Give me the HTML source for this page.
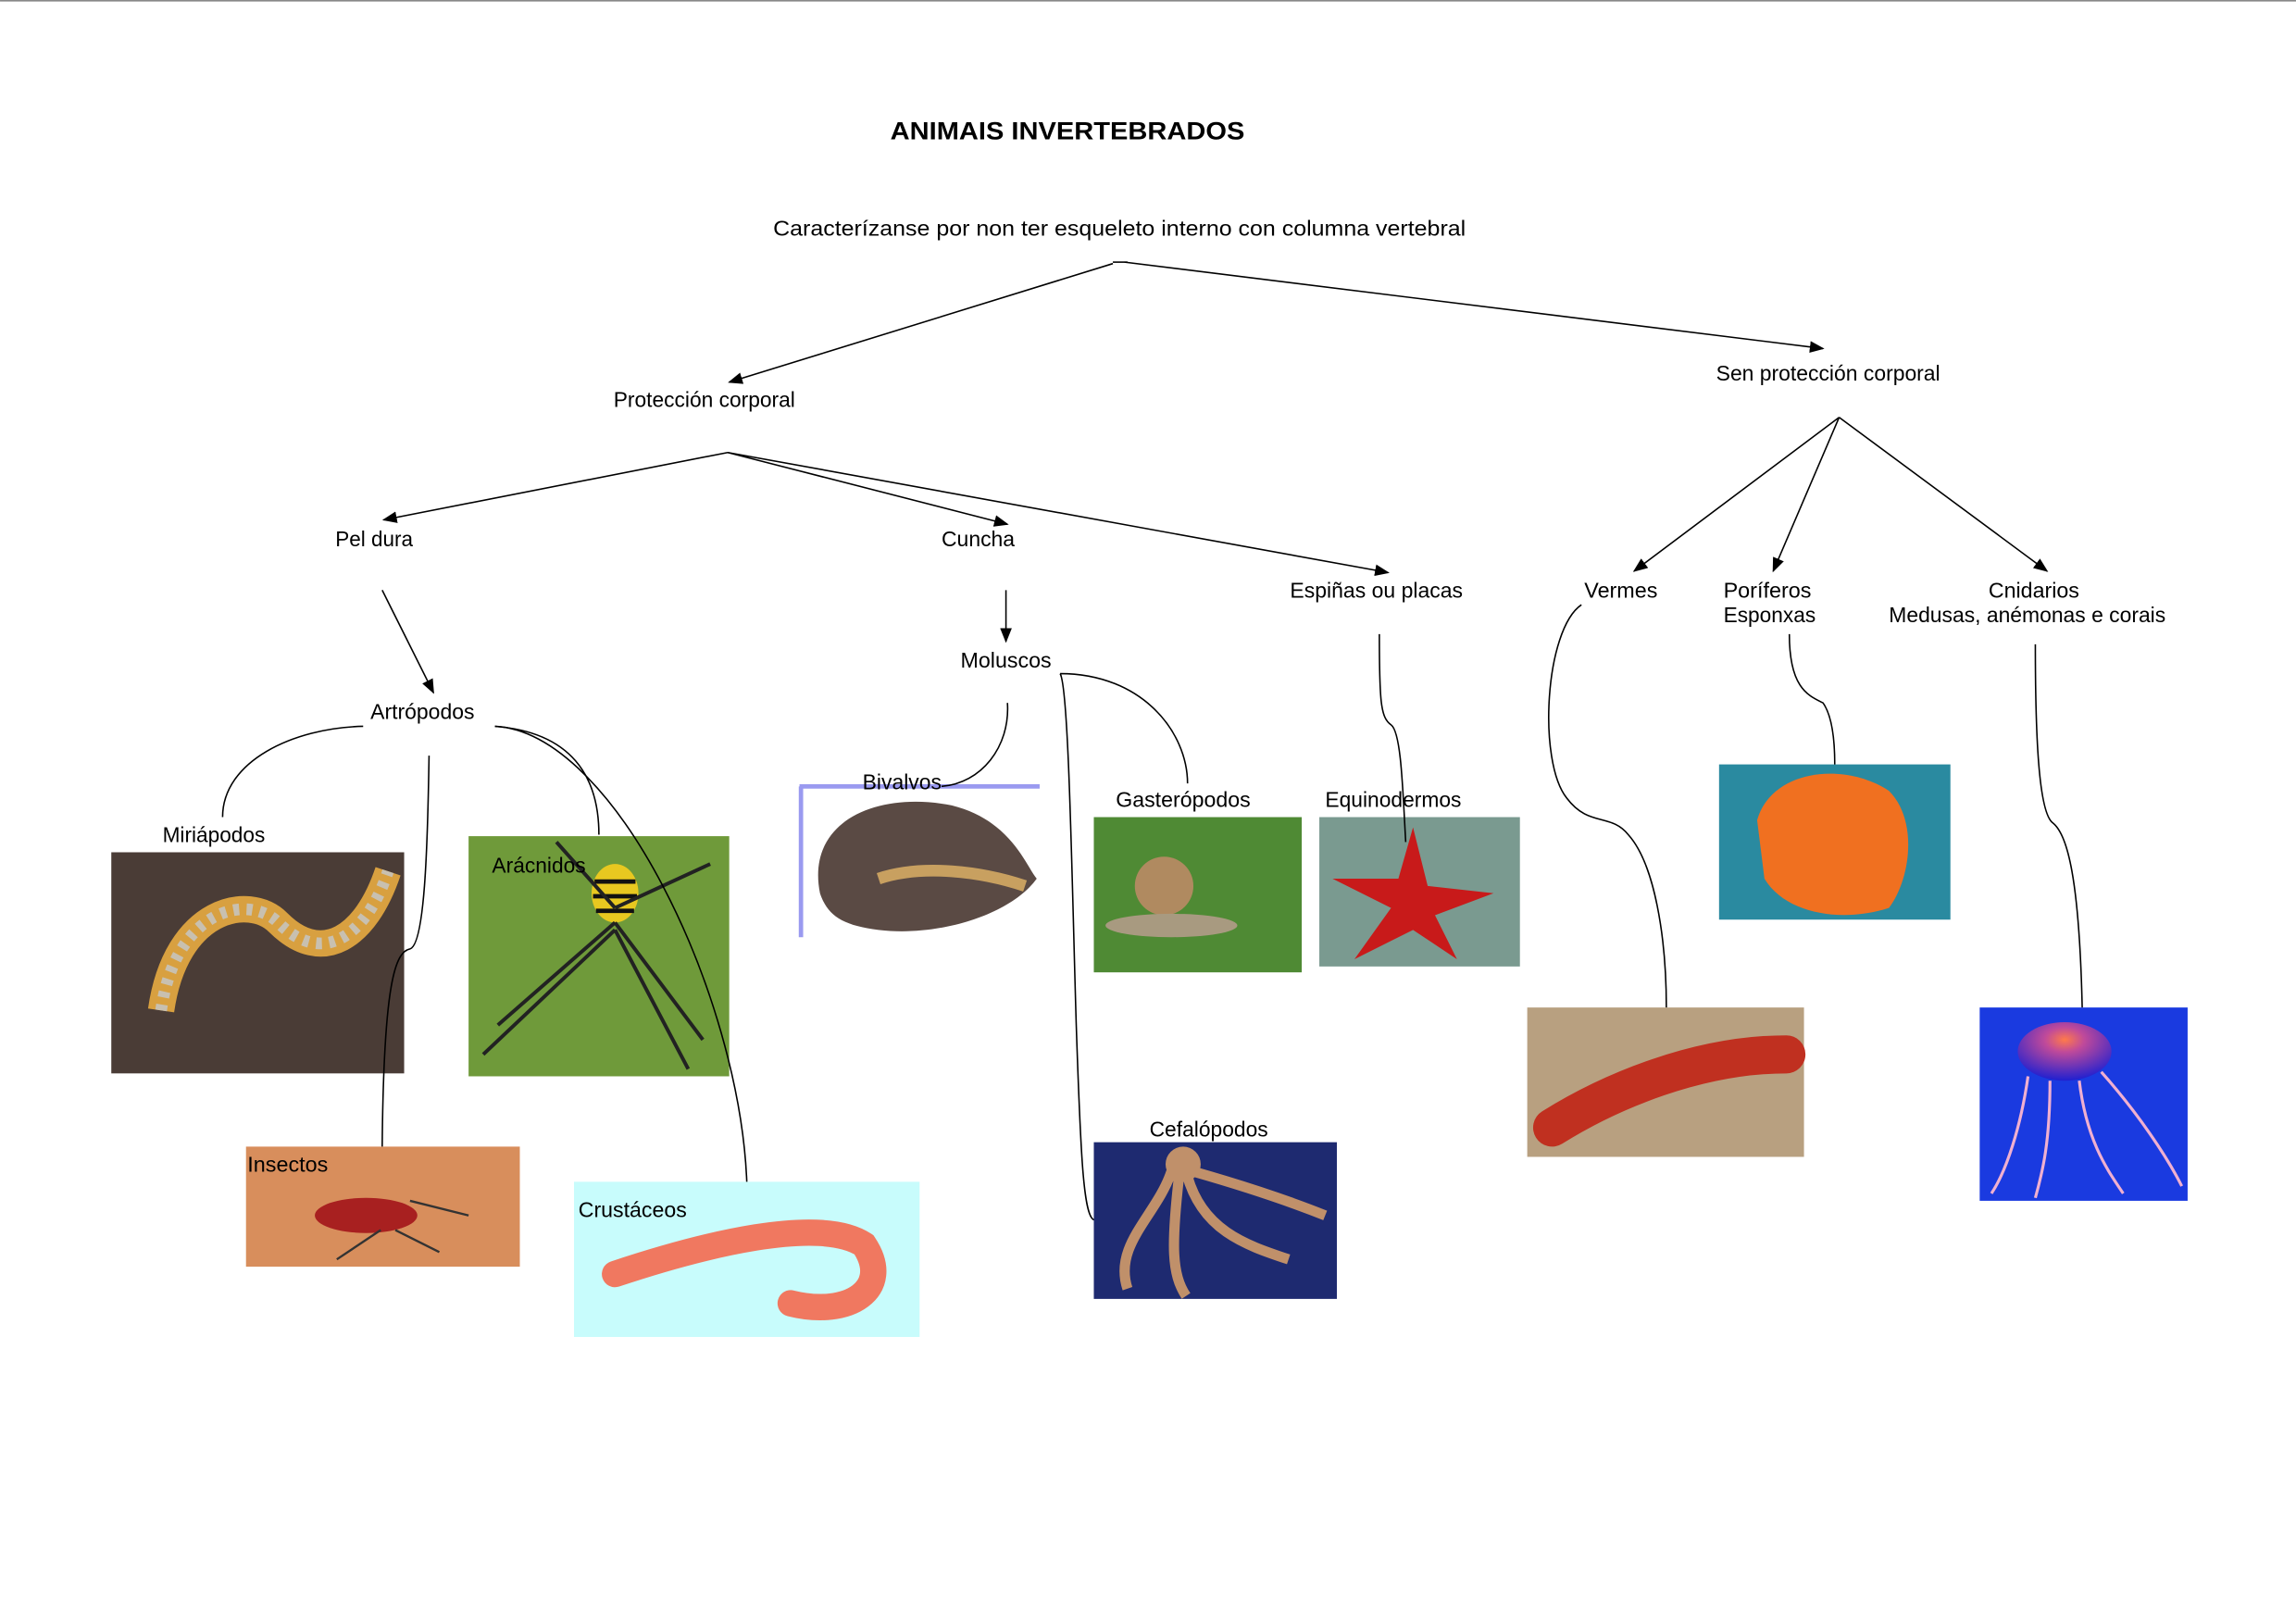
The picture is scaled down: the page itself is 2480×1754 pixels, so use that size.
<!DOCTYPE html>
<html><head><meta charset="utf-8"><style>
html,body{margin:0;padding:0;background:#fff}
svg{display:block}
text{font-family:"Liberation Sans",sans-serif;font-size:14.5px;fill:#000}
</style></head><body>
<svg width="2480" height="1754" viewBox="0 0 1568 1109" xmlns="http://www.w3.org/2000/svg">
<defs>
<marker id="a" markerWidth="10" markerHeight="8" refX="9" refY="4" orient="auto" markerUnits="userSpaceOnUse"><path d="M0,0 L10,4 L0,8 z" fill="#000"/></marker>
<radialGradient id="jel" cx="50%" cy="30%" r="70%"><stop offset="0" stop-color="#ff7a4a"/><stop offset=".3" stop-color="#c04a9a"/><stop offset="1" stop-color="#2020d0"/></radialGradient>
</defs>
<rect width="1568" height="1109" fill="#fff"/>
<line x1="0" y1="0.5" x2="1568" y2="0.5" stroke="#888" stroke-width="1"/>

<!-- photos -->
<rect x="76" y="582" width="200" height="151" fill="#4a3c36"/>
<path d="M110,690 C120,620 170,610 190,630 C220,660 250,640 265,595" stroke="#d8a040" stroke-width="18" fill="none"/>
<path d="M110,690 C120,620 170,610 190,630 C220,660 250,640 265,595" stroke="#c8c0b0" stroke-width="8" fill="none" stroke-dasharray="4 5"/>
<rect x="320" y="571" width="178" height="164" fill="#6f9a3a"/>
<ellipse cx="420" cy="610" rx="16" ry="20" fill="#e8c820"/>
<path d="M406,602h28M405,612h30M407,622h26" stroke="#111" stroke-width="3"/>
<path d="M420,630 L340,700 M420,630 L480,710 M420,620 L380,575 M420,620 L485,590 M420,635 L330,720 M420,635 L470,730" stroke="#222" stroke-width="2.5"/>
<rect x="168" y="783" width="187" height="82" fill="#d88e5c"/>
<ellipse cx="250" cy="830" rx="35" ry="12" fill="#a82020"/>
<path d="M280,820 L320,830 M260,840 L230,860 M270,840 L300,855" stroke="#333" stroke-width="1.5"/>
<rect x="392" y="807" width="236" height="106" fill="#c8fcfc"/>
<path d="M420,870 C480,850 560,830 590,850 C610,880 580,900 540,890" stroke="#f07860" stroke-width="18" fill="none" stroke-linecap="round"/>
<rect x="546" y="536" width="164" height="104" fill="#fff"/>
<path d="M546,537 H710 M547,537 V640" stroke="#9a9af0" stroke-width="3"/>
<path d="M560,610 C550,560 600,540 650,550 C690,560 700,590 708,600 C690,625 640,640 600,635 C575,632 565,625 560,610z" fill="#5a4a44"/>
<path d="M600,600 C630,590 670,595 700,605" stroke="#c8a060" stroke-width="8" fill="none"/>
<rect x="747" y="558" width="142" height="106" fill="#4f8a34"/>
<circle cx="795" cy="605" r="20" fill="#b08a60"/><ellipse cx="800" cy="632" rx="45" ry="8" fill="#a89a80"/>
<rect x="901" y="558" width="137" height="102" fill="#7a9a90"/>
<path d="M965,565 L975,605 L1020,610 L980,625 L995,655 L965,635 L925,655 L950,620 L910,600 L955,600z" fill="#c81a1a"/>
<rect x="747" y="780" width="166" height="107" fill="#1e2a70"/>
<path d="M800,800 C790,830 760,850 770,880 M810,800 C820,840 850,850 880,860 M805,805 C800,850 800,870 810,885 M815,800 C850,810 880,820 905,830" stroke="#c0906a" stroke-width="7" fill="none"/>
<circle cx="808" cy="795" r="12" fill="#c0906a"/>
<rect x="1174" y="522" width="158" height="106" fill="#2a8aa0"/>
<path d="M1200,560 C1210,525 1260,520 1290,540 C1310,560 1305,600 1290,620 C1260,630 1220,625 1205,600z" fill="#f07020"/>
<rect x="1043" y="688" width="189" height="102" fill="#b8a080"/>
<path d="M1060,770 C1100,745 1160,720 1220,720" stroke="#c03020" stroke-width="26" fill="none" stroke-linecap="round"/>
<rect x="1352" y="688" width="142" height="132" fill="#1a3ae0"/>
<ellipse cx="1410" cy="718" rx="32" ry="20" fill="url(#jel)"/>
<path d="M1385,735 C1380,770 1370,800 1360,815 M1400,738 C1400,780 1395,800 1390,818 M1420,738 C1425,780 1440,800 1450,815 M1435,732 C1460,760 1480,790 1490,810" stroke="#f0b0d0" stroke-width="2" fill="none"/>

<!-- text -->
<text x="608" y="95" font-weight="bold" style="font-size:17px" textLength="242" lengthAdjust="spacingAndGlyphs">ANIMAIS INVERTEBRADOS</text>
<text x="528" y="161" textLength="473" lengthAdjust="spacingAndGlyphs">Caracterízanse por non ter esqueleto interno con columna vertebral</text>
<text x="419" y="278" textLength="124" lengthAdjust="spacingAndGlyphs">Protección corporal</text>
<text x="1172" y="260" textLength="153" lengthAdjust="spacingAndGlyphs">Sen protección corporal</text>
<text x="229" y="373" textLength="53" lengthAdjust="spacingAndGlyphs">Pel dura</text>
<text x="643" y="373" textLength="50" lengthAdjust="spacingAndGlyphs">Cuncha</text>
<text x="881" y="408" textLength="118" lengthAdjust="spacingAndGlyphs">Espiñas ou placas</text>
<text x="1082" y="408" textLength="50" lengthAdjust="spacingAndGlyphs">Vermes</text>
<text x="1177" y="408" textLength="60" lengthAdjust="spacingAndGlyphs">Poríferos</text>
<text x="1177" y="425" textLength="63" lengthAdjust="spacingAndGlyphs">Esponxas</text>
<text x="1358" y="408" textLength="62" lengthAdjust="spacingAndGlyphs">Cnidarios</text>
<text x="1290" y="425" textLength="189" lengthAdjust="spacingAndGlyphs">Medusas, anémonas e corais</text>
<text x="253" y="491" textLength="71" lengthAdjust="spacingAndGlyphs">Artrópodos</text>
<text x="656" y="456" textLength="62" lengthAdjust="spacingAndGlyphs">Moluscos</text>
<text x="111" y="575" textLength="70" lengthAdjust="spacingAndGlyphs">Miriápodos</text>
<text x="336" y="596" textLength="64" lengthAdjust="spacingAndGlyphs">Arácnidos</text>
<text x="169" y="800" textLength="55" lengthAdjust="spacingAndGlyphs">Insectos</text>
<text x="395" y="831" textLength="74" lengthAdjust="spacingAndGlyphs">Crustáceos</text>
<text x="589" y="539" textLength="54" lengthAdjust="spacingAndGlyphs">Bivalvos</text>
<text x="762" y="551" textLength="92" lengthAdjust="spacingAndGlyphs">Gasterópodos</text>
<text x="905" y="551" textLength="93" lengthAdjust="spacingAndGlyphs">Equinodermos</text>
<text x="785" y="776" textLength="81" lengthAdjust="spacingAndGlyphs">Cefalópodos</text>

<!-- connectors -->
<g stroke="#000" stroke-width="1" fill="none">
<line x1="760" y1="180" x2="498" y2="261" marker-end="url(#a)"/>
<line x1="760" y1="179" x2="770" y2="179"/>
<line x1="768" y1="179" x2="1245" y2="238" marker-end="url(#a)"/>
<line x1="497" y1="309" x2="262" y2="355" marker-end="url(#a)"/>
<line x1="497" y1="309" x2="688" y2="358" marker-end="url(#a)"/>
<line x1="497" y1="309" x2="948" y2="391" marker-end="url(#a)"/>
<line x1="1256" y1="285" x2="1116" y2="390" marker-end="url(#a)"/>
<line x1="1256" y1="285" x2="1211" y2="390" marker-end="url(#a)"/>
<line x1="1256" y1="285" x2="1398" y2="390" marker-end="url(#a)"/>
<line x1="261" y1="403" x2="296" y2="473" marker-end="url(#a)"/>
<line x1="687" y1="403" x2="687" y2="438" marker-end="url(#a)"/>
<path d="M248,496 C200,497 152,520 152,558"/>
<path d="M293,516 C292,580 290,645 280,648 C270,650 262,670 261,783"/>
<path d="M338,496 C390,500 409,530 409,570"/>
<path d="M338,496 C420,500 505,680 510,807"/>
<path d="M688,480 C690,510 670,535 643,537"/>
<path d="M724,460 C780,460 811,500 811,535"/>
<path d="M724,460 C730,470 732,600 735,700 C738,790 740,830 747,833"/>
<path d="M942,433 C942,480 943,490 950,495 C957,500 958,540 960,575"/>
<path d="M1080,413 C1055,430 1050,520 1070,545 C1085,565 1100,555 1112,570 C1130,590 1138,640 1138,688"/>
<path d="M1222,433 C1222,470 1235,475 1245,480 C1252,490 1253,510 1253,522"/>
<path d="M1390,440 C1390,500 1392,555 1402,562 C1412,570 1420,600 1422,688"/>
</g>
</svg>
</body></html>
